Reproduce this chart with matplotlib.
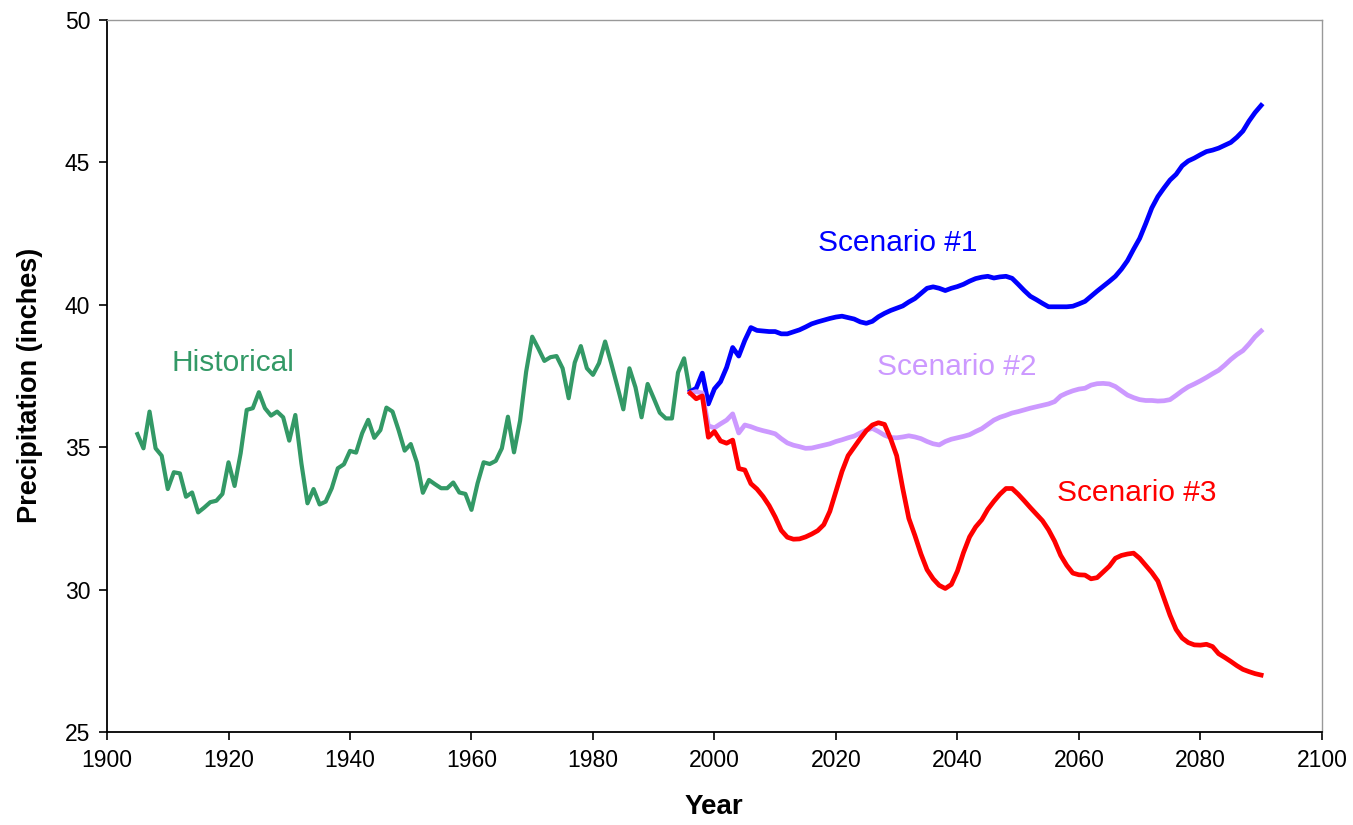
import numpy as np
import matplotlib
matplotlib.use("Agg")
import matplotlib.pyplot as plt

plt.rcParams['font.family'] = ['Liberation Sans', 'DejaVu Sans']

# Observed annual precipitation, 1905-1996
hist_years = list(range(1905, 1997))
hist_values = [
    35.46, 34.96, 36.25, 34.96, 34.70, 33.53, 34.12, 34.08, 33.26, 33.41,
    32.71, 32.88, 33.07, 33.12, 33.36, 34.47, 33.64, 34.79, 36.31, 36.37,
    36.93, 36.37, 36.11, 36.25, 36.05, 35.23, 36.13, 34.43, 33.03, 33.53,
    32.99, 33.09, 33.56, 34.26, 34.40, 34.87, 34.81, 35.49, 35.96, 35.33,
    35.60, 36.39, 36.25, 35.60, 34.88, 35.11, 34.47, 33.40, 33.85, 33.70,
    33.56, 33.56, 33.76, 33.41, 33.36, 32.80, 33.73, 34.47, 34.41, 34.52,
    34.96, 36.07, 34.82, 35.93, 37.65, 38.88, 38.47, 38.03, 38.16, 38.20,
    37.77, 36.72, 37.97, 38.55, 37.77, 37.54, 37.95, 38.71, 37.95, 37.15,
    36.33, 37.77, 37.10, 36.05, 37.22, 36.72, 36.21, 36.01, 36.01, 37.62,
    38.12, 36.91,
]

# Projected precipitation, 1996-2090
proj_years = list(range(1996, 2091))
scenario1 = [
    36.95, 37.07, 37.60, 36.52, 37.05, 37.30, 37.80, 38.50, 38.20, 38.75,
    39.20, 39.10, 39.08, 39.06, 39.06, 38.98, 38.98, 39.05, 39.12, 39.22,
    39.33, 39.40, 39.46, 39.52, 39.57, 39.60, 39.55, 39.50, 39.40, 39.35,
    39.42, 39.58, 39.70, 39.80, 39.88, 39.96, 40.10, 40.22, 40.40, 40.58,
    40.63, 40.58, 40.50, 40.58, 40.64, 40.72, 40.83, 40.92, 40.97, 41.00,
    40.94, 40.98, 41.00, 40.93, 40.72, 40.50, 40.30, 40.18, 40.05, 39.93,
    39.93, 39.93, 39.93, 39.95, 40.03, 40.12, 40.30, 40.48, 40.65, 40.82,
    41.00, 41.25, 41.55, 41.95, 42.33, 42.85, 43.40, 43.80, 44.10, 44.38,
    44.58, 44.88, 45.05, 45.15, 45.27, 45.38, 45.43, 45.50, 45.60, 45.70,
    45.88, 46.10, 46.45, 46.75, 47.00,
]
scenario2 = [
    36.90, 36.95, 36.90, 35.75, 35.68, 35.82, 35.95, 36.17, 35.50, 35.78,
    35.72, 35.64, 35.58, 35.53, 35.47, 35.30, 35.15, 35.07, 35.02, 34.96,
    34.97, 35.02, 35.07, 35.12, 35.20, 35.26, 35.33, 35.39, 35.50, 35.60,
    35.66, 35.55, 35.42, 35.34, 35.33, 35.36, 35.40, 35.36, 35.30, 35.20,
    35.12, 35.08, 35.20, 35.28, 35.33, 35.38, 35.44, 35.55, 35.65, 35.80,
    35.95, 36.05, 36.12, 36.20, 36.25, 36.31, 36.37, 36.42, 36.47, 36.52,
    36.60, 36.80, 36.90, 36.98, 37.04, 37.07, 37.18, 37.23, 37.24, 37.22,
    37.13, 36.98, 36.83, 36.74, 36.67, 36.64, 36.64, 36.62, 36.63, 36.67,
    36.82, 36.98, 37.12, 37.22, 37.33, 37.45, 37.58, 37.70, 37.88, 38.08,
    38.25, 38.39, 38.62, 38.88, 39.08,
]
scenario3 = [
    36.90, 36.70, 36.80, 35.35, 35.55, 35.22, 35.14, 35.25, 34.25, 34.20,
    33.72, 33.53, 33.27, 32.95, 32.55, 32.08, 31.84, 31.77, 31.78, 31.85,
    31.95, 32.07, 32.28, 32.75, 33.45, 34.15, 34.70, 35.00, 35.30, 35.58,
    35.78, 35.86, 35.80, 35.30, 34.70, 33.55, 32.50, 31.90, 31.25, 30.70,
    30.38, 30.15, 30.04, 30.18, 30.65, 31.30, 31.85, 32.20, 32.45, 32.82,
    33.10, 33.35, 33.55, 33.55, 33.35, 33.12, 32.88, 32.65, 32.42, 32.10,
    31.70, 31.20, 30.85, 30.58, 30.52, 30.51, 30.38, 30.42, 30.62, 30.82,
    31.10, 31.20, 31.25, 31.28, 31.10, 30.85, 30.60, 30.30, 29.70, 29.10,
    28.60, 28.30, 28.14, 28.06, 28.05, 28.08, 28.00, 27.75, 27.62, 27.48,
    27.33, 27.20, 27.12, 27.05, 27.00,
]

x_ticks = [1900, 1920, 1940, 1960, 1980, 2000, 2020, 2040, 2060, 2080, 2100]
y_ticks = [25, 30, 35, 40, 45, 50]

GREEN = "#339966"
BLUE = "#0000FF"
LILAC = "#CC99FF"
RED = "#FF0000"

fig = plt.figure(figsize=(13.53, 8.25), dpi=100)
ax = fig.add_axes([0.0791, 0.1127, 0.8979, 0.8631])

ax.plot(hist_years, hist_values, color=GREEN, lw=3.0, solid_joinstyle="round")
ax.plot(proj_years, scenario1, color=BLUE, lw=3.4, solid_joinstyle="round")
ax.plot(proj_years, scenario2, color=LILAC, lw=3.4, solid_joinstyle="round")
ax.plot(proj_years, scenario3, color=RED, lw=3.4, solid_joinstyle="round")

ax.set_xlim(1900, 2100)
ax.set_ylim(25, 50)
ax.set_xticks(x_ticks)
ax.set_yticks(y_ticks)
ax.tick_params(axis="both", direction="out", length=6, width=1.2,
               labelsize=16.5, pad=6)

for side in ("left", "bottom"):
    ax.spines[side].set_color("black")
    ax.spines[side].set_linewidth(1.3)
for side in ("top", "right"):
    ax.spines[side].set_color("#999999")
    ax.spines[side].set_linewidth(1.0)

# Axis titles
fig.text(0.5277, 0.013, "Year", fontsize=20, fontweight="bold",
         ha="center", va="baseline")
fig.text(0.0222, 0.5333, "Precipitation (inches)", fontsize=19.5,
         fontweight="bold", rotation=90, ha="center", va="center")

# Series labels
ax.text(1920.7, 37.95, "Historical", color=GREEN, fontsize=21.5,
        ha="center", va="center")
ax.text(2030.2, 42.17, "Scenario #1", color=BLUE, fontsize=21.5,
        ha="center", va="center")
ax.text(2039.9, 37.82, "Scenario #2", color=LILAC, fontsize=21.5,
        ha="center", va="center")
ax.text(2069.5, 33.39, "Scenario #3", color=RED, fontsize=21.5,
        ha="center", va="center")

fig.savefig("out.png", dpi=100)
